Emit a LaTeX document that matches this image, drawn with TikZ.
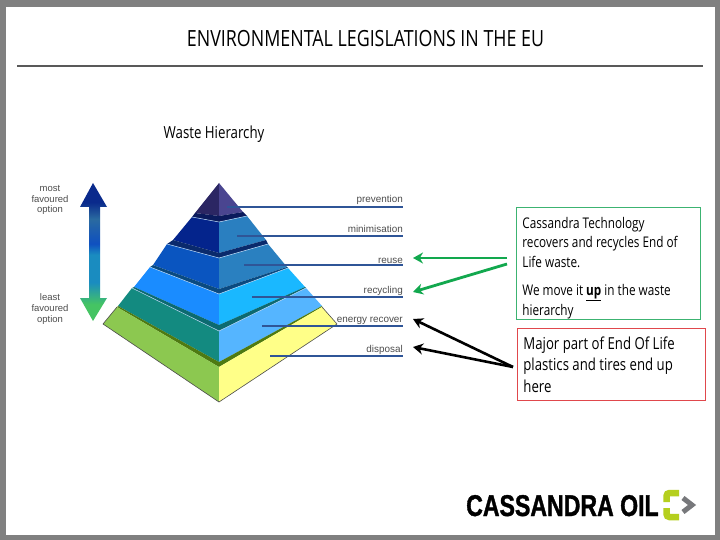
\documentclass[tikz,border=0pt]{standalone}
\usepackage{fontspec}
\setmainfont[FakeStretch=0.8]{Open Sans}
\newfontfamily\labelfont{Liberation Sans}
\newfontfamily\logofont[BoldFeatures={FakeBold=1.2,FakeStretch=0.77}]{Liberation Sans}
\usetikzlibrary{arrows.meta}
\definecolor{framegray}{HTML}{808080}
\definecolor{linkblue}{HTML}{2F5597}
\definecolor{labelgray}{HTML}{4D4D4D}
\definecolor{boxgreen}{HTML}{3CB371}
\definecolor{boxred}{HTML}{E0474C}
\definecolor{arrowgreen}{HTML}{12A84E}
\definecolor{limelogo}{HTML}{B5CF1E}
\definecolor{graylogo}{HTML}{77787B}
\definecolor{ridgeline}{HTML}{B4D2F0}
\definecolor{prevleft}{HTML}{2B2663}
\definecolor{prevright}{HTML}{4A4590}
\definecolor{prevtop}{HTML}{0A1A5C}
\definecolor{minileft}{HTML}{04248C}
\definecolor{miniright}{HTML}{2A7FC0}
\definecolor{minitop}{HTML}{0A2A6C}
\definecolor{reuseleft}{HTML}{0A55C0}
\definecolor{reuseright}{HTML}{2A80C0}
\definecolor{reusetop}{HTML}{0A4A80}
\definecolor{recyleft}{HTML}{1A8CFF}
\definecolor{recyright}{HTML}{1AB8FF}
\definecolor{recytop}{HTML}{0C6A70}
\definecolor{enerleft}{HTML}{138A80}
\definecolor{enerright}{HTML}{55B5FF}
\definecolor{enertop}{HTML}{4E7A12}
\definecolor{displeft}{HTML}{8CC850}
\definecolor{dispright}{HTML}{FFFF88}
\definecolor{favgreen}{HTML}{45C463}
\definecolor{favteal}{HTML}{1A8CC0}
\definecolor{favblue}{HTML}{0F50C0}
\definecolor{favsteel}{HTML}{2A6AA0}
\definecolor{favnavy}{HTML}{0A2A8C}
\pgfdeclareverticalshading{favourshade}{100bp}{
	color(0bp)=(favgreen);
	color(31bp)=(favgreen);
	color(39bp)=(favteal);
	color(49bp)=(favteal);
	color(53bp)=(favblue);
	color(62bp)=(favsteel);
	color(68bp)=(favnavy);
	color(100bp)=(favnavy)}
\begin{document}
\begin{tikzpicture}[x=1pt,y=-1pt,
	linkline/.style={linkblue, line width=1.1pt},
	levellabel/.style={labelgray, font=\labelfont\fontsize{9.9}{9.9}\selectfont, anchor=base east, inner sep=0pt},
	sidelabel/.style={labelgray, font=\labelfont\fontsize{9.5}{10.8}\selectfont, align=center, inner sep=0pt},
	greenarrow/.style={arrowgreen, line width=2.8pt, -{Stealth[length=10pt,width=11pt]}},
	blackarrow/.style={black, line width=2.6pt, -{Stealth[length=10pt,width=11pt]}},
	notebox/.style={draw, line width=0.8pt, anchor=north west, align=flush left, inner xsep=6pt}]
	\useasboundingbox (0,0) rectangle (720,540);
	\fill[framegray] (0,0) rectangle (720,540);
	\fill[white] (6,7) rectangle (715,535);

	\node[font=\fontsize{22.3}{26}\selectfont] (title) at (365.5,39) {ENVIRONMENTAL LEGISLATIONS IN THE EU};
	\coordinate (ruleleft) at (17,66);
	\coordinate (ruleright) at (703,66);
	\draw[black!65, line width=1.4pt] (ruleleft) -- (ruleright);

	\node[font=\fontsize{16.6}{19}\selectfont] (wastetitle) at (214,134) {Waste Hierarchy};

	\path[shading=favourshade] (93,183) -- (107,207) -- (100,207) -- (100,298) -- (107,298) -- (93,321) -- (80,298) -- (89,298) -- (89,207) -- (80,207) -- cycle;
	\node[sidelabel] (mostlabel) at (50,200) {most\\favoured\\option};
	\node[sidelabel] (leastlabel) at (50,309) {least\\favoured\\option};

	\fill[prevleft] (219,183) -- (195,213) -- (219,216) -- cycle;
	\fill[prevright] (219,183) -- (243,212) -- (219,216) -- cycle;
	\fill[prevtop] (195,213) -- (219,216) -- (243,212) -- (247,216) -- (219,222) -- (192,217) -- cycle;

	\fill[minileft] (192,217) -- (173,240) -- (219,253) -- (219,222) -- cycle;
	\fill[miniright] (247,216) -- (266,240) -- (219,253) -- (219,222) -- cycle;
	\fill[minitop] (173,240) -- (219,253) -- (266,240) -- (268,244) -- (219,258) -- (167,244) -- cycle;
	\draw[ridgeline, line width=0.5pt] (192,217) -- (219,222) -- (247,216);

	\fill[reuseleft] (167,244) -- (153,265) -- (219,289) -- (219,258) -- cycle;
	\fill[reuseright] (268,244) -- (287,267) -- (219,289) -- (219,258) -- cycle;
	\fill[reusetop] (153,265) -- (219,289) -- (287,267) -- (288,268) -- (219,294) -- (150,267) -- cycle;
	\draw[ridgeline, line width=0.5pt] (167,244) -- (219,258) -- (268,244);

	\fill[recyleft] (150,267) -- (134,287) -- (219,325) -- (219,294) -- cycle;
	\fill[recyright] (288,268) -- (305,287) -- (219,325) -- (219,294) -- cycle;
	\fill[recytop] (134,287) -- (219,325) -- (305,287) -- (306,288) -- (219,331) -- (132,288) -- cycle;
	\draw[ridgeline, line width=0.5pt] (150,267) -- (219,294) -- (288,268);

	\fill[enerleft] (132,288) -- (118,306) -- (219,362) -- (219,331) -- cycle;
	\fill[enerright] (306,288) -- (322,306) -- (219,362) -- (219,331) -- cycle;
	\fill[enertop] (118,306) -- (219,362) -- (322,306) -- (322,307) -- (219,367) -- (117,307) -- cycle;
	\draw[ridgeline, line width=0.5pt] (132,288) -- (219,331) -- (306,288);

	\fill[displeft] (117,307) -- (103,324) -- (219,402) -- (219,367) -- cycle;
	\fill[dispright] (322,307) -- (337,324) -- (219,402) -- (219,367) -- cycle;
	\draw[black!70, line width=0.6pt] (117,307) -- (103,324) -- (219,402) -- (337,324) -- (322,307);

	\coordinate (prevstart) at (227,207);
	\coordinate (prevend) at (403,207);
	\coordinate (ministart) at (237,236);
	\coordinate (miniend) at (403,236);
	\coordinate (reusestart) at (244,265);
	\coordinate (reuseend) at (403,265);
	\coordinate (recystart) at (252,297);
	\coordinate (recyend) at (403,297);
	\coordinate (enerstart) at (262,326);
	\coordinate (enerend) at (403,326);
	\coordinate (dispstart) at (270,356);
	\coordinate (dispend) at (403,356);
	\draw[linkline] (prevstart) -- (prevend);
	\draw[linkline] (ministart) -- (miniend);
	\draw[linkline] (reusestart) -- (reuseend);
	\draw[linkline] (recystart) -- (recyend);
	\draw[linkline] (enerstart) -- (enerend);
	\draw[linkline] (dispstart) -- (dispend);
	\node[levellabel] (prevlabel) at (403,203) {prevention};
	\node[levellabel] (minilabel) at (403,233) {minimisation};
	\node[levellabel] (reuselabel) at (403,263) {reuse};
	\node[levellabel] (recylabel) at (403,293) {recycling};
	\node[levellabel] (enerlabel) at (403,322) {energy recover};
	\node[levellabel] (displabel) at (403,352) {disposal};

	\node[notebox, draw=boxgreen, text width=172pt, minimum height=112pt, font=\fontsize{14.7}{19.5}\selectfont, inner ysep=0pt] (greenbox) at (516,207) {\rule{0pt}{20pt}Cassandra Technology\\recovers and recycles End of\\Life waste.\\[9pt]We move it \underline{\textbf{up}} in the waste\\hierarchy};
	\node[notebox, draw=boxred, text width=176pt, minimum height=72pt, font=\fontsize{16.5}{21.5}\selectfont, inner ysep=4pt] (redbox) at (517,328) {Major part of End Of Life\\plastics and tires end up\\here};

	\coordinate (greenone) at (507,258);
	\coordinate (greentwo) at (507,264);
	\coordinate (reusetip) at (413,258);
	\coordinate (recytip) at (413,292);
	\coordinate (blackfoot) at (513,367);
	\coordinate (enertip) at (413,319);
	\coordinate (disptip) at (413,347);
	\draw[greenarrow] (greenone) -- (reusetip);
	\draw[greenarrow] (greentwo) -- (recytip);
	\draw[blackarrow] (blackfoot) -- (enertip);
	\draw[blackarrow] (blackfoot) -- (disptip);

	\node[font=\logofont\bfseries\fontsize{30}{32}\selectfont, anchor=base west, inner sep=0pt] (logotext) at (466,516) {CASSANDRA OIL};
	\draw[limelogo, line width=6.5pt, rounded corners=3pt] (679,493) -- (666.5,493) -- (666.5,502);
	\draw[limelogo, line width=6.5pt, rounded corners=3pt] (679,517) -- (666.5,517) -- (666.5,508);
	\draw[graylogo, line width=5pt] (683,498) -- (692,505) -- (683,512);
\end{tikzpicture}
\end{document}
